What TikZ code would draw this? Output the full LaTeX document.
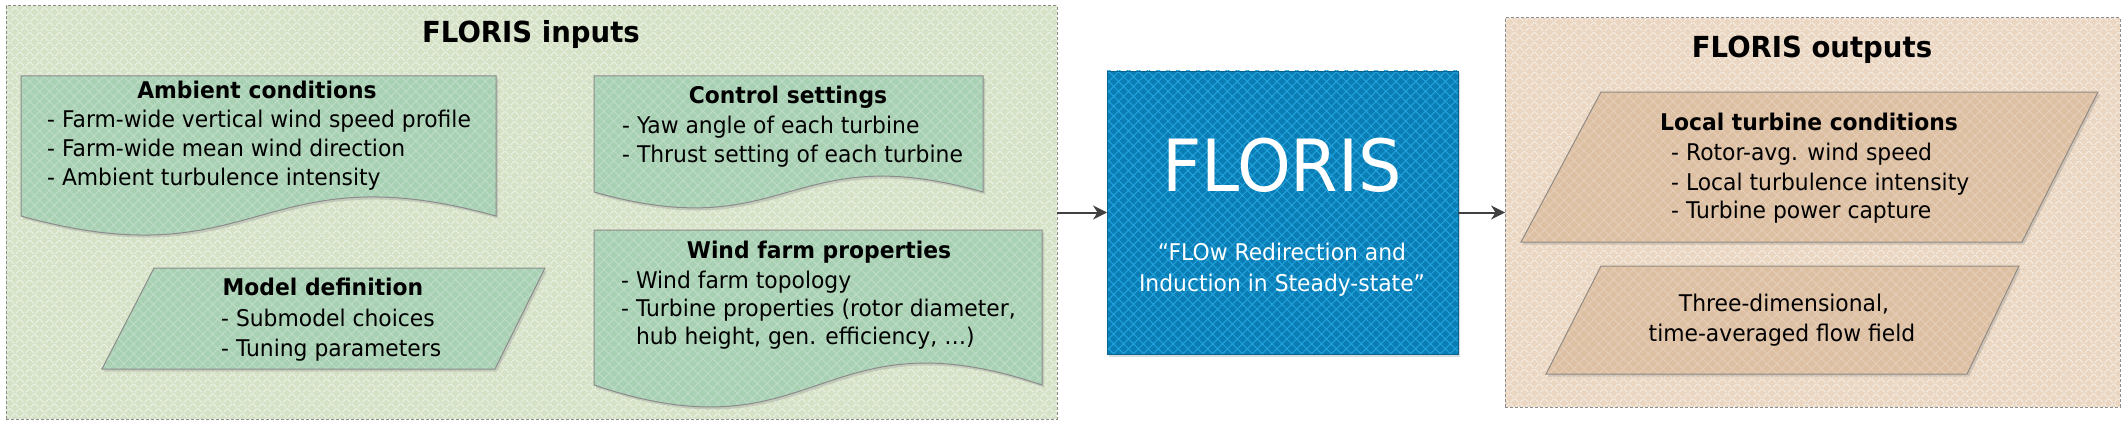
\documentclass[tikz,border=0pt]{standalone}
\usepackage{fontspec}
\setmainfont{DejaVu Sans}[FakeStretch=0.95]
\usetikzlibrary{patterns.meta,shadows,arrows.meta}
\definecolor{inbg}{HTML}{D5E2C6}
\definecolor{inln}{HTML}{ECF1E6}
\definecolor{gbox}{HTML}{A8D0B3}
\definecolor{gboxln}{HTML}{BCDCC6}
\definecolor{flblue}{HTML}{0A7DB5}
\definecolor{flbln}{HTML}{22A2DC}
\definecolor{obg}{HTML}{EAD6C1}
\definecolor{oln}{HTML}{F5ECE2}
\definecolor{obox}{HTML}{DDBFA2}
\definecolor{oboxln}{HTML}{E5CDB7}
\definecolor{bordgray}{HTML}{8C8C8C}
\definecolor{arrgray}{HTML}{404040}
\tikzset{
  hatched/.style 2 args={preaction={fill=#1}, pattern={Hatch[angle=45,distance=7pt,line width=1pt]}, pattern color=#2},
  container/.style={draw=bordgray, line width=1pt, dash pattern=on 3pt off 2pt, outer sep=0pt, inner sep=0pt},
  shad/.style={drop shadow={shadow xshift=2pt, shadow yshift=-2.5pt, opacity=0.3, fill=black!45}},
  gshape/.style={shad, hatched={gbox}{gboxln}, draw=bordgray, line width=1pt},
  oshape/.style={shad, hatched={obox}{oboxln}, draw=bordgray!90!brown, line width=1pt},
  ttl/.style={inner sep=0pt, anchor=base, font=\bfseries\fontsize{29}{35}\selectfont},
  hdr/.style={inner sep=0pt, anchor=base, font=\bfseries\fontsize{23}{29}\selectfont},
  itm/.style={inner sep=0pt, anchor=base west, font=\fontsize{23}{29}\selectfont},
  ctr/.style={inner sep=0pt, anchor=base, font=\fontsize{23}{29}\selectfont},
  arr/.style={draw=arrgray, line width=2pt, -{Stealth[length=14pt,width=14pt]}},
}
\begin{document}
\begin{tikzpicture}[x=1pt,y=-1pt]
\useasboundingbox (0,0) rectangle (2128,428);
\fill[white] (0,0) rectangle (2128,428);

% containers
\node[container, hatched={inbg}{inln}, minimum width=1051pt, minimum height=413pt] (inputs) at (531.5,212.5) {};
\node[container, hatched={obg}{oln}, minimum width=615pt, minimum height=389pt] (outputs) at (1812.5,212.5) {};
\node[ttl] (inttl) at (531,43) {FLORIS inputs};
\node[ttl] (outttl) at (1812,58) {FLORIS outputs};

% Ambient conditions (document shape)
\path[gshape] (21,76) -- (496,76) -- (496,216) .. controls (258.5,150) and (258.5,282) .. (21,216) -- cycle;
\node[hdr] (ambh) at (257,99) {Ambient conditions};
\node[itm] (amb1) at (47,127) {- Farm-wide vertical wind speed profile};
\node[itm] (amb2) at (47,156) {- Farm-wide mean wind direction};
\node[itm] (amb3) at (47,185) {- Ambient turbulence intensity};

% Model definition (parallelogram)
\path[gshape] (154,268) -- (545,268) -- (495,369) -- (102,369) -- cycle;
\node[hdr] (modh) at (323,295) {Model definition};
\node[itm] (mod1) at (221,326) {- Submodel choices};
\node[itm] (mod2) at (221,356) {- Tuning parameters};

% Control settings
\path[gshape] (594,76) -- (983,76) -- (983,192) .. controls (788.5,137) and (788.5,247) .. (594,192) -- cycle;
\node[hdr] (conh) at (788,103) {Control settings};
\node[itm] (con1) at (622,133) {- Yaw angle of each turbine};
\node[itm] (con2) at (622,162) {- Thrust setting of each turbine};

% Wind farm properties
\path[gshape] (594,230) -- (1042,230) -- (1042,385) .. controls (818,309) and (818,461) .. (594,385) -- cycle;
\node[hdr] (wfh) at (819,258) {Wind farm properties};
\node[itm] (wf1) at (621,288) {- Wind farm topology};
\node[itm] (wf2) at (621,316) {- Turbine properties (rotor diameter,};
\node[itm] (wf3) at (621,344) {\phantom{- }hub height, gen. efficiency, …)};

% FLORIS box
\node[shad, hatched={flblue}{flbln}, draw=flblue!80!black, line width=0.6pt, minimum width=351pt, minimum height=283pt, inner sep=0pt, outer sep=0pt] (floris) at (1282.5,212.5) {};
\node[inner sep=0pt, anchor=base, text=white, font=\fontsize{72}{80}\selectfont] (flt) at (1282,191) {FLORIS};
\node[ctr, text=white] (fq1) at (1282,260) {“FLOw Redirection and};
\node[ctr, text=white] (fq2) at (1282,291) {Induction in Steady-state”};

% Local turbine conditions
\path[oshape] (1601,92) -- (2098,92) -- (2022,242) -- (1521,242) -- cycle;
\node[hdr] (loch) at (1809,130) {Local turbine conditions};
\node[itm] (loc1) at (1671,160) {- Rotor-avg. wind speed};
\node[itm] (loc2) at (1671,190) {- Local turbulence intensity};
\node[itm] (loc3) at (1671,218) {- Turbine power capture};

% Three-dimensional flow field
\path[oshape] (1601,266) -- (2019,266) -- (1967,374) -- (1546,374) -- cycle;
\node[ctr] (ff1) at (1784,311) {Three-dimensional,};
\node[ctr] (ff2) at (1782,341) {time-averaged flow field};

% arrows
\draw[arr] (inputs) -- (floris);
\draw[arr] (floris) -- (outputs);
\end{tikzpicture}
\end{document}
